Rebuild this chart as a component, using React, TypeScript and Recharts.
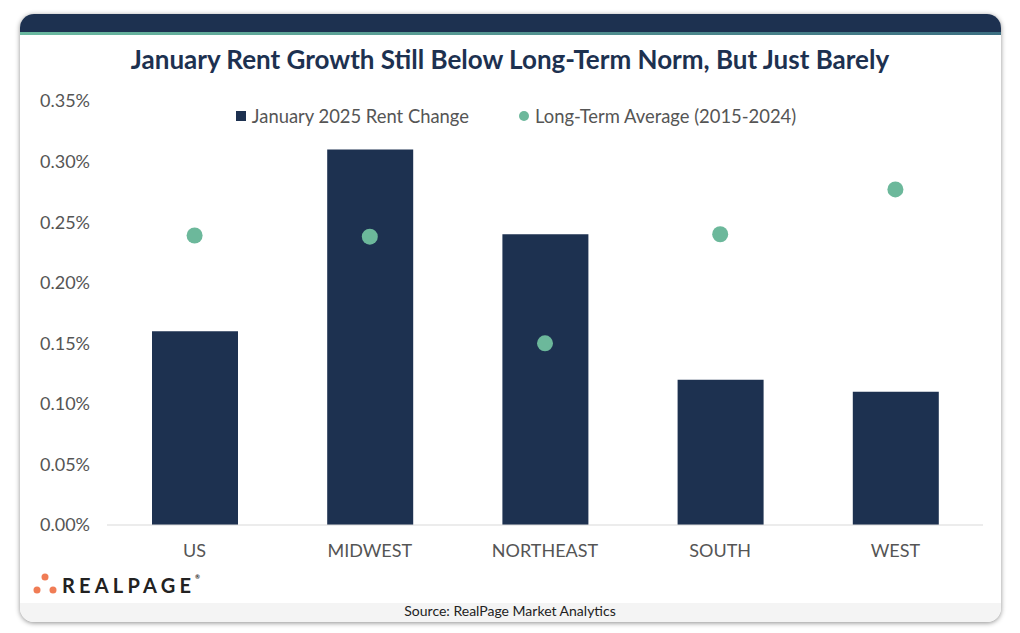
import { ComposedChart, Bar, Line, XAxis, YAxis } from 'recharts';

const regions = ['US', 'MIDWEST', 'NORTHEAST', 'SOUTH', 'WEST'];
const janChange = [0.16, 0.31, 0.24, 0.12, 0.11];
const longTermAvg = [0.239, 0.238, 0.15, 0.24, 0.277];
const yTicks = [0, 0.05, 0.1, 0.15, 0.2, 0.25, 0.3, 0.35];

const barName = 'January 2025 Rent Change';
const dotName = 'Long-Term Average (2015-2024)';

const NAVY = '#1d3150';
const TEAL = '#6cb89b';
const FONT = 'Lato, "Open Sans", sans-serif';

const data = regions.map((region, i) => ({
  region,
  jan: janChange[i],
  avg: longTermAvg[i],
}));

export default function App() {
  return (
    <div style={{ position: 'absolute', left: 0, top: 0, width: 1020, height: 633, background: '#fff', fontFamily: FONT }}>
      {/* card */}
      <div style={{
        position: 'absolute', left: 20, top: 14, width: 981, height: 608,
        borderRadius: 14, background: '#fff', overflow: 'hidden',
        boxShadow: '0 1px 5px rgba(0,0,0,0.45)',
      }}>
        <div style={{ height: 18, background: NAVY }} />
        <div style={{ height: 3, background: 'linear-gradient(90deg, #6ab9a0, #3c6f82)' }} />
        <div style={{ position: 'absolute', left: 0, right: 0, bottom: 0, height: 19, background: '#f4f4f4' }} />
      </div>

      {/* title */}
      <div style={{
        position: 'absolute', left: 0, width: 1020, top: 43, textAlign: 'center',
        fontSize: 26, fontWeight: 700, color: NAVY,
      }}>
        January Rent Growth Still Below Long-Term Norm, But Just Barely
      </div>

      {/* legend */}
      <div style={{
        position: 'absolute', left: 0, width: 1032, top: 105, display: 'flex', justifyContent: 'center',
        alignItems: 'center', fontSize: 18.4, color: '#555', gap: 50,
      }}>
        <span style={{ display: 'flex', alignItems: 'center', gap: 6 }}>
          <span style={{ width: 10, height: 10, background: NAVY, display: 'inline-block' }} />
          {barName}
        </span>
        <span style={{ display: 'flex', alignItems: 'center', gap: 6 }}>
          <span style={{ width: 10, height: 10, borderRadius: 5, background: TEAL, display: 'inline-block' }} />
          {dotName}
        </span>
      </div>

      <div style={{ position: 'absolute', left: 0, top: 0 }}>
        <ComposedChart width={1020} height={633} data={data} margin={{ top: 101, right: 37, bottom: 78, left: 0 }}>
          <XAxis
            dataKey="region"
            axisLine={{ stroke: '#d9d9d9' }}
            tickLine={false}
            tickSize={0}
            tickMargin={19}
            height={30}
            tick={{ fontSize: 18, fill: '#555', fontFamily: FONT }}
          />
          <YAxis
            domain={[0, 0.35]}
            ticks={yTicks}
            width={107}
            axisLine={false}
            tickLine={false}
            tickSize={0}
            tickMargin={17}
            tick={{ fontSize: 18, fill: '#555', fontFamily: FONT }}
            tickFormatter={(v: number) => `${v.toFixed(2)}%`}
          />
          <Bar dataKey="jan" name={barName} fill={NAVY} barSize={86} isAnimationActive={false} />
          <Line
            dataKey="avg"
            name={dotName}
            stroke="none"
            dot={{ r: 8, fill: TEAL, stroke: 'none' }}
            activeDot={false}
            isAnimationActive={false}
          />
        </ComposedChart>
      </div>

      {/* logo */}
      <svg style={{ position: 'absolute', left: 30, top: 570 }} width={30} height={28}>
        <circle cx={15} cy={7} r={3.5} fill="#f07c55" />
        <circle cx={7} cy={20} r={3.5} fill="#f07c55" />
        <circle cx={23} cy={20} r={3.5} fill="#f07c55" />
      </svg>
      <div style={{
        position: 'absolute', left: 62, top: 573, fontSize: 20, fontWeight: 700,
        letterSpacing: 4.2, color: '#222',
      }}>
        REALPAGE<span style={{ fontSize: 6, verticalAlign: 'top', letterSpacing: 0 }}>®</span>
      </div>

      {/* source */}
      <div style={{
        position: 'absolute', left: 0, width: 1020, top: 602, textAlign: 'center',
        fontSize: 14, color: '#222',
      }}>
        Source: RealPage Market Analytics
      </div>
    </div>
  );
}
